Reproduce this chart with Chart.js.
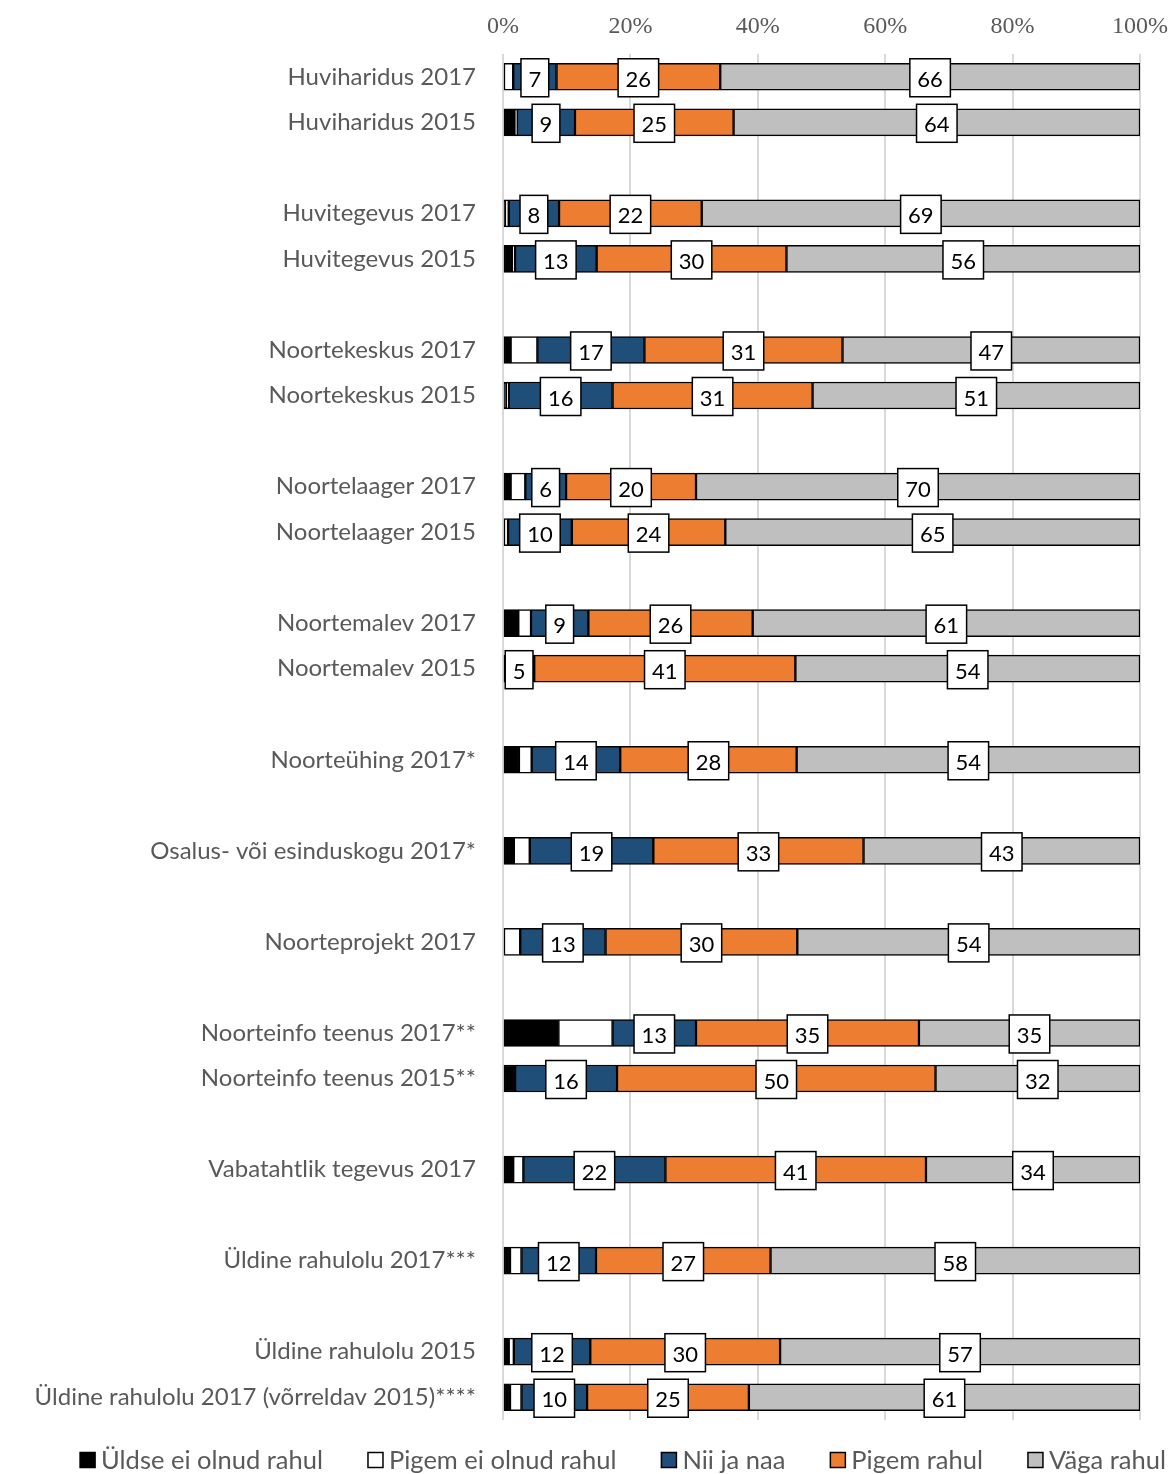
<!DOCTYPE html>
<html>
<head>
<meta charset="utf-8">
<script src="https://cdn.jsdelivr.net/npm/chart.js@4.4.0/dist/chart.umd.min.js"></script>
<style>
  html, body { margin: 0; padding: 0; background: #fff; }
  #wrap { width: 1169px; height: 1474px; position: relative; }
</style>
</head>
<body>
<div id="wrap"><canvas id="chart"></canvas></div>
<script>
// rows, '' = empty spacer row
const categories = [
  "Huviharidus 2017", "Huviharidus 2015", "",
  "Huvitegevus 2017", "Huvitegevus 2015", "",
  "Noortekeskus 2017", "Noortekeskus 2015", "",
  "Noortelaager 2017", "Noortelaager 2015", "",
  "Noortemalev 2017", "Noortemalev 2015", "",
  "Noorteühing 2017*", "",
  "Osalus- või esinduskogu 2017*", "",
  "Noorteprojekt 2017", "",
  "Noorteinfo teenus 2017**", "Noorteinfo teenus 2015**", "",
  "Vabatahtlik tegevus 2017", "",
  "Üldine rahulolu 2017***", "",
  "Üldine rahulolu 2015", "Üldine rahulolu 2017 (võrreldav 2015)****"
];
const seriesNames = ["Üldse ei olnud rahul", "Pigem ei olnud rahul", "Nii ja naa", "Pigem rahul", "Väga rahul"];
const seriesColors = ["#000000", "#FFFFFF", "#1F4E79", "#ED7D31", "#BFBFBF"];

const yldseEi  = [0, 1.9, null, 0.3, 1.4, null, 1.2, 0.5, null, 1.2, 0, null, 2.4, 0, null, 2.5, null, 1.7, null, 0, null, 8.7, 1.9, null, 1.6, null, 1.1, null, 0.9, 1.1];
const pigemEi  = [1.6, 0.3, null, 0.6, 0.5, null, 4.2, 0.4, null, 2.3, 0.8, null, 2.0, 0, null, 2.0, null, 2.5, null, 2.7, null, 8.5, 0, null, 1.6, null, 1.8, null, 0.8, 1.8];
const niiJaNaa = [6.8, 9.1, null, 7.9, 12.8, null, 16.8, 16.3, null, 6.4, 10.0, null, 9.0, 4.9, null, 13.9, null, 19.4, null, 13.4, null, 13.1, 16.0, null, 22.3, null, 11.7, null, 12.0, 10.3];
const pigem    = [25.7, 24.9, null, 22.4, 29.8, null, 31.1, 31.4, null, 20.4, 24.1, null, 25.8, 41.0, null, 27.7, null, 33.0, null, 30.1, null, 35.0, 50.0, null, 40.9, null, 27.4, null, 29.8, 25.4];
const vaga     = [65.9, 63.8, null, 68.8, 55.5, null, 46.7, 51.4, null, 69.7, 65.1, null, 60.8, 54.1, null, 53.9, null, 43.4, null, 53.8, null, 34.7, 32.1, null, 33.6, null, 58.0, null, 56.5, 61.4];

const xTicks = [0, 20, 40, 60, 80, 100];
const labelledSeries = [2, 3, 4];

const textGray = "#595959";
const sans = "Lato, 'Open Sans', sans-serif";

// white boxed value labels on the last three segments
const boxLabels = {
  id: "boxLabels",
  afterDatasetsDraw(chart) {
    const ctx = chart.ctx;
    ctx.save();
    ctx.font = "22px " + sans;
    ctx.textAlign = "center";
    ctx.textBaseline = "middle";
    labelledSeries.forEach(di => {
      const meta = chart.getDatasetMeta(di);
      meta.data.forEach((bar, i) => {
        const v = chart.data.datasets[di].data[i];
        if (v == null) return;
        const p = bar.getProps(["x", "y", "base"], true);
        const cx = (p.x + p.base) / 2;
        const t = String(Math.round(v));
        const w = ctx.measureText(t).width + 15;
        const h = 38;
        ctx.fillStyle = "#fff";
        ctx.fillRect(cx - w / 2, p.y - h / 2 + 1, w, h);
        ctx.strokeStyle = "#000";
        ctx.lineWidth = 1.5;
        ctx.strokeRect(cx - w / 2, p.y - h / 2 + 1, w, h);
        ctx.fillStyle = "#000";
        ctx.fillText(t, cx, p.y + 3);
      });
    });
    ctx.restore();
  }
};

// legend along the bottom
const bottomLegend = {
  id: "bottomLegend",
  afterDraw(chart) {
    const ctx = chart.ctx;
    ctx.save();
    ctx.font = "25.5px " + sans;
    ctx.textBaseline = "middle";
    const box = 15, gap = 6, spacing = 45;
    const widths = seriesNames.map(n => box + gap + ctx.measureText(n).width);
    const total = widths.reduce((a, b) => a + b, 0) + spacing * (seriesNames.length - 1);
    let x = 623 - total / 2;
    const y = 1460;
    seriesNames.forEach((n, i) => {
      ctx.fillStyle = seriesColors[i];
      ctx.fillRect(x, y - box / 2, box, box);
      ctx.strokeStyle = "#000";
      ctx.lineWidth = 1.5;
      ctx.strokeRect(x, y - box / 2, box, box);
      ctx.fillStyle = textGray;
      ctx.fillText(n, x + box + gap, y + 1);
      x += widths[i] + spacing;
    });
    ctx.restore();
  }
};

const seriesData = [yldseEi, pigemEi, niiJaNaa, pigem, vaga];

new Chart(document.getElementById("chart"), {
  type: "bar",
  data: {
    labels: categories,
    datasets: seriesData.map((d, i) => ({
      label: seriesNames[i],
      data: d,
      backgroundColor: seriesColors[i],
      borderColor: "#000",
      borderWidth: 1.5,
      borderSkipped: false,
      barThickness: 27
    }))
  },
  options: {
    indexAxis: "y",
    responsive: true,
    maintainAspectRatio: false,
    animation: false,
    layout: { padding: { left: 0, right: 29, top: 0, bottom: 54 } },
    plugins: { legend: { display: false }, tooltip: { enabled: false } },
    scales: {
      x: {
        position: "top",
        stacked: true,
        min: 0,
        max: 100,
        afterBuildTicks: s => { s.ticks = xTicks.map(v => ({ value: v })); },
        afterFit: s => { s.height = 54; s.paddingLeft = 0; s.paddingRight = 0; },
        ticks: {
          callback: v => v + "%",
          color: textGray,
          padding: 13,
          maxRotation: 0,
          font: { family: "'Liberation Serif', 'DejaVu Serif', serif", size: 24 }
        },
        grid: { color: "#D9D9D9", lineWidth: 2, drawTicks: false },
        border: { display: false }
      },
      y: {
        stacked: true,
        afterFit: s => { s.width = 503; },
        ticks: {
          autoSkip: false,
          color: textGray,
          padding: 27,
          font: { family: sans, size: 24 }
        },
        grid: { display: false, drawTicks: false },
        border: { display: false }
      }
    }
  },
  plugins: [boxLabels, bottomLegend]
});
</script>
</body>
</html>
